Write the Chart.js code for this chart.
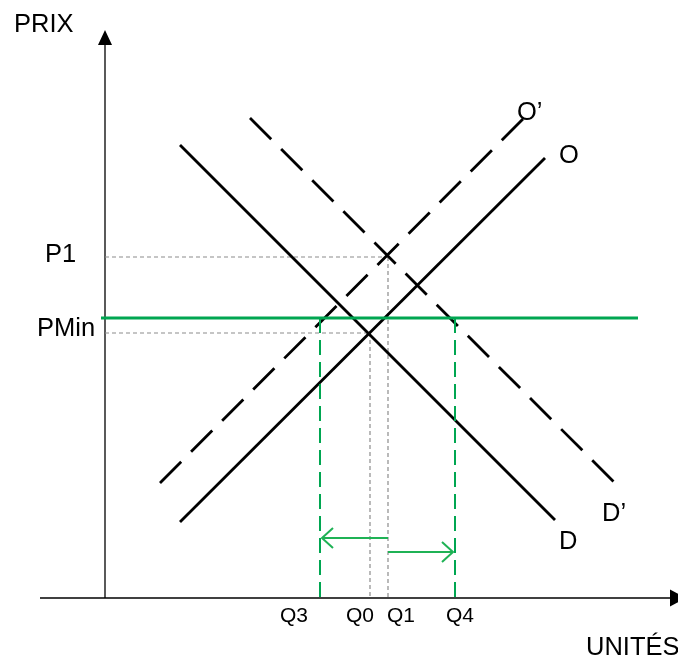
<!DOCTYPE html>
<html><head><meta charset="utf-8">
<script src="https://cdn.jsdelivr.net/npm/chart.js@4"></script>
<style>html,body{margin:0;padding:0;background:#fff}</style>
</head><body>
<canvas id="c" width="678" height="658"></canvas>
<script>
// ---- data (arbitrary units) ----
const qLabels = ['Q3', 'Q0', 'Q1', 'Q4'];
const qValues = [43, 53, 56.6, 70];
const pLabels = ['P1', 'PMin'];
const pValues = [68.2, 56];
const p0Value = 53;
const demandD  = [[15, 90.6], [90, 15.6]];
const supplyO  = [[15, 15.2], [88, 88]];
const demandD2 = [[29, 96], [101.8, 23.2]];
const supplyO2 = [[11, 23], [84, 96.2]];
const curveNames = ['D', 'O', 'D’', 'O’'];

const Q3 = qValues[0], Q0 = qValues[1], Q1 = qValues[2], Q4 = qValues[3];
const P1 = pValues[0], PMIN = pValues[1];

const pts = a => a.map(p => ({x: p[0], y: p[1]}));
const BLACK = '#000', GREEN = '#00a651', AGREEN = '#1fb255', GRAY = '#8c8c8c';

function line(data, color, width, dash) {
  return {data: pts(data), showLine: true, borderColor: color, borderWidth: width,
    borderDash: dash || [], pointRadius: 0, pointHoverRadius: 0, fill: false, tension: 0};
}

const datasets = [
  line([[Q1, 12], [Q3 + 0.4, 12]], AGREEN, 2),
  line([[Q1, 9.2], [Q4 - 0.4, 9.2]], AGREEN, 2),
  line([[-0.8, PMIN], [106.6, PMIN]], GREEN, 3),
  line([[Q3, PMIN], [Q3, 0]], GREEN, 2, [15, 7]),
  line([[Q4, PMIN], [Q4, 0]], GREEN, 2, [15, 7]),
  line(demandD, BLACK, 2.8),
  line(supplyO, BLACK, 2.8),
  line(demandD2, BLACK, 2.8, [30, 14]),
  line(supplyO2, BLACK, 2.8, [30, 14]),
  line([[0, P1], [Q1, P1]], GRAY, 1.2, [4, 3]),
  line([[Q1, P1], [Q1, 0]], GRAY, 1.2, [4, 3]),
  line([[0, p0Value], [Q0, p0Value]], GRAY, 1.2, [4, 3]),
  line([[Q0, p0Value], [Q0, 0]], GRAY, 1.2, [4, 3])
];

const decor = {
  id: 'decor',
  beforeDatasetsDraw(chart) {
    const {ctx, scales: {x, y}} = chart;
    const ox = x.getPixelForValue(0), oy = y.getPixelForValue(0);
    ctx.save();
    ctx.strokeStyle = '#000'; ctx.fillStyle = '#000'; ctx.lineWidth = 1.3;
    // y axis
    ctx.beginPath(); ctx.moveTo(ox, oy); ctx.lineTo(ox, 44); ctx.stroke();
    ctx.beginPath(); ctx.moveTo(ox, 30); ctx.lineTo(ox - 7, 45); ctx.lineTo(ox + 7, 45); ctx.closePath(); ctx.fill();
    // x axis
    ctx.beginPath(); ctx.moveTo(40, oy); ctx.lineTo(672, oy); ctx.stroke();
    ctx.beginPath(); ctx.moveTo(686, oy); ctx.lineTo(670, oy - 8.5); ctx.lineTo(670, oy + 8.5); ctx.closePath(); ctx.fill();
    ctx.restore();
  },
  afterDatasetsDraw(chart) {
    const {ctx, scales: {x, y}} = chart;
    ctx.save();
    // arrow heads (open)
    ctx.strokeStyle = AGREEN; ctx.lineWidth = 2;
    const head = (tx, ty, dir) => {
      ctx.beginPath();
      ctx.moveTo(tx - dir * 11, ty - 10); ctx.lineTo(tx, ty); ctx.lineTo(tx - dir * 11, ty + 10);
      ctx.stroke();
    };
    head(x.getPixelForValue(Q3) + 2, y.getPixelForValue(12), -1);
    head(x.getPixelForValue(Q4) - 2, y.getPixelForValue(9.2), 1);

    ctx.fillStyle = '#000';
    ctx.textBaseline = 'alphabetic'; ctx.textAlign = 'left';
    ctx.font = '25.5px "Liberation Sans", Arial, sans-serif';
    ctx.fillText('PRIX', 14, 32);
    ctx.fillText('UNITÉS', 586, 655);
    ctx.fillText(pLabels[0], 45, y.getPixelForValue(P1) + 5);
    ctx.fillText(pLabels[1], 37, y.getPixelForValue(PMIN) + 18);
    // curve labels near curve ends
    const endPx = a => [x.getPixelForValue(a[1][0]), y.getPixelForValue(a[1][1])];
    let e = endPx(demandD);  ctx.fillText(curveNames[0], e[0] + 4, e[1] + 29);
    e = endPx(supplyO);      ctx.fillText(curveNames[1], e[0] + 14, e[1] + 5);
    e = endPx(demandD2);     ctx.fillText(curveNames[2], e[0] - 12, e[1] + 39);
    e = endPx(supplyO2);     ctx.fillText(curveNames[3], e[0] - 8, e[1] + 3);
    // quantity labels
    ctx.font = '21px "Liberation Sans", Arial, sans-serif';
    ctx.textAlign = 'center';
    const qOff = [-26, -10, 13, 5];
    qLabels.forEach((l, i) => ctx.fillText(l, x.getPixelForValue(qValues[i]) + qOff[i], 622));
    ctx.restore();
  }
};

new Chart(document.getElementById('c'), {
  type: 'scatter',
  data: {datasets},
  options: {
    responsive: false, animation: false,
    layout: {padding: 0},
    plugins: {legend: {display: false}, tooltip: {enabled: false}},
    scales: {
      x: {type: 'linear', display: false, min: -21, max: 114.6},
      y: {type: 'linear', display: false, min: -12, max: 119.6}
    }
  },
  plugins: [decor]
});
</script>
</body></html>
